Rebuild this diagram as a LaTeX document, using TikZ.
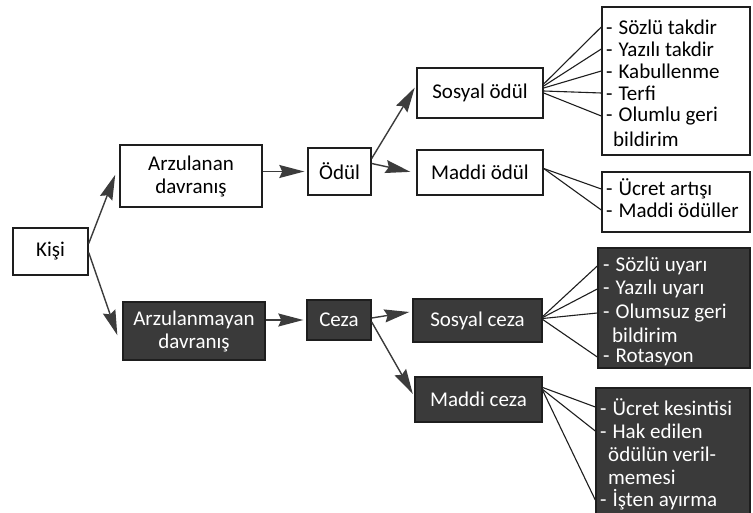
\documentclass[tikz,border=0pt]{standalone}
\usepackage{fontspec}
\setmainfont{Carlito}
\usetikzlibrary{arrows.meta}
\definecolor{ink}{HTML}{1E1E1E}
\definecolor{darkfill}{HTML}{3A3A3A}
\definecolor{arrowgray}{HTML}{3C3C3C}
\newcommand{\dashitem}{-\hspace{6pt}}
\begin{document}
\begin{tikzpicture}[x=1pt,y=-1pt,
  every node/.style={font=\fontsize{21}{23}\selectfont},
  lightbox/.style={draw=ink, line width=1.4pt, fill=white, inner sep=0pt, align=center},
  darkbox/.style={draw=ink, line width=1.4pt, fill=darkfill, text=white, inner sep=0pt, align=center},
  listbox/.style={draw=ink, line width=1.4pt, inner sep=0pt},
  item/.style={anchor=west, inner sep=0pt},
  flow/.style={draw=arrowgray, line width=1.4pt, shorten >=3pt,
    -{Stealth[length=25pt,width=13pt,inset=3pt]}},
  link/.style={draw=ink, line width=1.1pt}]
\useasboundingbox (0,0) rectangle (753,513);
\fill[white] (0,0) rectangle (753,513);

% main chain
\node[lightbox, minimum width=75pt, minimum height=47pt] (kisi) at (50.5,251.5) {Kişi};
\node[lightbox, minimum width=142pt, minimum height=62pt] (arz) at (191,176) {Arzulanan\\davranış};
\node[lightbox, minimum width=63pt, minimum height=47pt] (odul) at (339.5,171.5) {Ödül};
\node[lightbox, minimum width=126pt, minimum height=50pt] (sosodul) at (480,93) {Sosyal ödül};
\node[lightbox, minimum width=126pt, minimum height=45pt] (madodul) at (480,172.5) {Maddi ödül};

\node[darkbox, minimum width=142pt, minimum height=58pt] (arzm) at (194,331) {Arzulanmayan\\davranış};
\node[darkbox, minimum width=64pt, minimum height=40pt] (ceza) at (339,320) {Ceza};
\node[darkbox, minimum width=129pt, minimum height=43pt] (sosceza) at (477.5,320.5) {Sosyal ceza};
\node[darkbox, minimum width=127pt, minimum height=45pt] (madceza) at (478.5,399.5) {Maddi ceza};

% reward lists
\node[listbox, fill=white, minimum width=148pt, minimum height=148pt] (l1) at (676,81) {};
\node[item] (a1) at (606,27) {\dashitem Sözlü takdir};
\node[item] (a2) at (606,49) {\dashitem Yazılı takdir};
\node[item] (a3) at (606,71) {\dashitem Kabullenme};
\node[item] (a4) at (606,93) {\dashitem Terfi};
\node[item] (a5) at (606,116) {\dashitem Olumlu geri};
\node[item] at (613,139) {bildirim};

\node[listbox, fill=white, minimum width=148pt, minimum height=60pt] (l2) at (676,202) {};
\node[item] (b1) at (606,189) {\dashitem Ücret artışı};
\node[item] (b2) at (606,210) {\dashitem Maddi ödüller};

% punishment lists
\node[listbox, fill=darkfill, minimum width=152pt, minimum height=120pt] (l3) at (674,308) {};
\begin{scope}[every node/.append style={text=white}]
\node[item] (c1) at (603,266) {\dashitem Sözlü uyarı};
\node[item] (c2) at (603,289) {\dashitem Yazılı uyarı};
\node[item] (c3) at (603,313) {\dashitem Olumsuz geri};
\node[item] at (612,335) {bildirim};
\node[item] (c4) at (603,357) {\dashitem Rotasyon};
\end{scope}

\node[listbox, fill=darkfill, minimum width=154pt, minimum height=127pt] (l4) at (673,451.5) {};
\begin{scope}[every node/.append style={text=white}]
\node[item] (d1) at (600,407) {\dashitem Ücret kesintisi};
\node[item] (d2) at (600,431) {\dashitem Hak edilen};
\node[item] at (608,454) {ödülün veril-};
\node[item] at (608,477) {memesi};
\node[item] (d3) at (600,500) {\dashitem İşten ayırma};
\end{scope}

% arrows
\draw[flow] ([yshift=8pt]kisi.east) -- ([xshift=-3pt,yshift=4pt]arz.west);
\draw[flow] ([yshift=-1pt]kisi.east) -- ([xshift=-4pt,yshift=-7pt]arzm.west);
\draw[flow] (arz.east |- odul.west) -- (odul.west);
\draw[flow] ([yshift=13pt]odul.east) -- ([yshift=8pt]sosodul.west);
\draw[flow] ([yshift=8pt]odul.east) -- ([xshift=-3pt]madodul.west);
\draw[flow] (arzm.east |- ceza.west) -- (ceza.west);
\draw[flow] ([yshift=2pt]ceza.east) -- ([yshift=9pt]sosceza.west);
\draw[flow] ([yshift=-2pt]ceza.east) -- ([yshift=3pt]madceza.west);

% links to list items
\draw[link] ([yshift=9pt]sosodul.east) -- (l1.west |- a1);
\draw[link] ([yshift=7pt]sosodul.east) -- (l1.west |- a2);
\draw[link] ([yshift=5pt]sosodul.east) -- (l1.west |- a3);
\draw[link] ([yshift=2pt]sosodul.east) -- (l1.west |- a4);
\draw[link] ([yshift=0pt]sosodul.east) -- (l1.west |- a5);

\draw[link] ([yshift=4pt]madodul.east) -- (l2.west |- b1);
\draw[link] ([yshift=4pt]madodul.east) -- (l2.west |- b2);

\draw[link] ([yshift=4pt]sosceza.east) -- (l3.west |- c1);
\draw[link] ([yshift=3pt]sosceza.east) -- (l3.west |- c2);
\draw[link] ([yshift=2pt]sosceza.east) -- (l3.west |- c3);
\draw[link] ([yshift=1pt]sosceza.east) -- (l3.west |- c4);

\draw[link] ([yshift=12pt]madceza.east) -- (l4.west |- d1);
\draw[link] ([yshift=10pt]madceza.east) -- (l4.west |- d2);
\draw[link] ([yshift=9pt]madceza.east) -- (l4.west |- d3);
\end{tikzpicture}
\end{document}
